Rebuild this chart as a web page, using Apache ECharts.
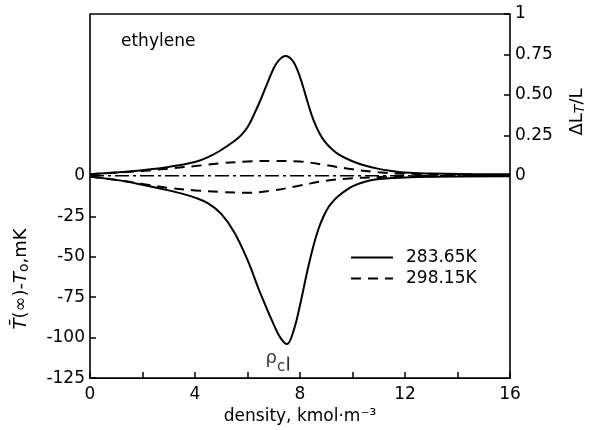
<!DOCTYPE html>
<html>
<head>
<meta charset="utf-8">
<script src="https://cdn.jsdelivr.net/npm/echarts@6/dist/echarts.min.js"></script>
<style>html,body{margin:0;padding:0;background:#fff;}#c{width:591px;height:430px;}</style>
</head>
<body>
<div id="c"></div>
<script>
// ---- data (density in kmol/m^3) ----
const upperSolidX = [0, 1, 2, 3, 4, 4.5, 5, 5.5, 5.75, 6, 6.25, 6.5, 6.75, 7, 7.2, 7.45, 7.7, 7.9, 8.1, 8.3, 8.5, 8.75, 9, 9.25, 9.5, 10, 10.5, 11, 11.5, 12, 13, 14, 16];
const upperSolidY = [0.01, 0.02, 0.035, 0.055, 0.085, 0.115, 0.16, 0.215, 0.25, 0.3, 0.38, 0.47, 0.57, 0.665, 0.715, 0.74, 0.715, 0.655, 0.56, 0.45, 0.35, 0.26, 0.2, 0.16, 0.13, 0.09, 0.062, 0.043, 0.03, 0.02, 0.014, 0.011, 0.01];

const lowerSolidX = [0, 1, 2, 3, 3.5, 4, 4.5, 5, 5.5, 6, 6.5, 7, 7.25, 7.5, 7.75, 8, 8.25, 8.5, 8.7, 8.9, 9.1, 9.3, 9.5, 9.75, 10, 10.5, 11, 12, 13, 16];
const lowerSolidY = [-0.5, -2.5, -5.5, -9, -11, -13.5, -17, -23.5, -35, -52, -73, -92, -100, -104, -96, -80, -61, -44, -33, -25, -19, -15, -12, -9, -6.5, -3.5, -2, -1, -0.6, -0.3];

const upperDashX = [0, 1, 2, 3, 4, 5, 6, 7, 8, 9, 10, 11, 12, 13, 16];
const upperDashY = [0.01, 0.02, 0.03, 0.045, 0.06, 0.078, 0.088, 0.092, 0.088, 0.066, 0.04, 0.022, 0.012, 0.008, 0.005];

const lowerDashX = [0, 1, 2, 3, 4, 5, 6, 7, 8, 9, 10, 11, 12, 13, 16];
const lowerDashY = [-0.5, -2.5, -5, -7.5, -9, -10, -10.5, -9, -6, -3, -1.5, -0.8, -0.3, -0.2, -0.1];

const baseX = [0, 16];
const baseY = [0, 0];

const rhoC = 7.55;
const rhoCMark = -116;

const xTickLabels = [0, 4, 8, 12, 16];
const xTicks = [0, 2, 4, 6, 8, 10, 12, 14, 16];
const leftTicks = [0, -25, -50, -75, -100, -125];
const rightTicks = [0, 0.25, 0.5, 0.75, 1];

const legendNames = ['283.65K', '298.15K'];

const pairs = (xs, ys) => xs.map((x, i) => [x, ys[i]]);

const FONT = 'DejaVu Sans';
const chart = echarts.init(document.getElementById('c'), null, {renderer: 'canvas'});

const curveBase = {type: 'line', smooth: 0.4, symbol: 'none', showSymbol: false, silent: true};

chart.setOption({
  animation: false,
  backgroundColor: '#fff',
  textStyle: {fontFamily: FONT, color: '#000'},
  title: {
    text: 'ethylene', left: 116, top: 28,
    textStyle: {fontFamily: FONT, fontSize: 17, fontWeight: 'normal', color: '#000'}
  },
  grid: {left: 90, right: 81, top: 14, bottom: 51, show: true, borderColor: '#000', borderWidth: 1.6, backgroundColor: 'transparent'},
  legend: {
    data: legendNames, orient: 'vertical', left: 345, top: 244,
    itemWidth: 42, itemHeight: 14, itemGap: 4,
    itemStyle: {opacity: 0},
    textStyle: {fontFamily: FONT, fontSize: 17, color: '#000', padding: [0, 0, 0, 8]}
  },
  xAxis: {
    type: 'value', min: 0, max: 16, interval: 2,
    axisLine: {show: false, onZero: false},
    axisTick: {show: true, inside: true, length: 6, lineStyle: {color: '#000', width: 1.5}, customValues: xTicks},
    axisLabel: {customValues: xTickLabels, fontFamily: FONT, fontSize: 17, color: '#000', margin: 8},
    splitLine: {show: false},
    name: 'density, kmol·m⁻³', nameLocation: 'middle', nameGap: 25,
    nameTextStyle: {fontFamily: FONT, fontSize: 17, color: '#000'}
  },
  yAxis: [
    {
      type: 'value', position: 'left', min: -125, max: 100, interval: 25,
      axisLine: {show: false, onZero: false},
      axisTick: {show: true, inside: true, length: 6, lineStyle: {color: '#000', width: 1.5}, customValues: leftTicks},
      axisLabel: {customValues: leftTicks, fontFamily: FONT, fontSize: 17, color: '#000', margin: 5},
      splitLine: {show: false}
    },
    {
      type: 'value', position: 'right', min: -1.25, max: 1, interval: 0.25,
      axisLine: {show: false, onZero: false},
      axisTick: {show: true, inside: true, length: 6, lineStyle: {color: '#000', width: 1.5}, customValues: rightTicks},
      axisLabel: {
        customValues: rightTicks, fontFamily: FONT, fontSize: 17, color: '#000', margin: 5,
        formatter: v => (v === 0 ? '0' : v === 1 ? '1' : v.toFixed(2))
      },
      splitLine: {show: false}
    }
  ],
  graphic: [
    {
      type: 'text', x: 21, y: 279, rotation: Math.PI / 2,
      style: {
        text: '{i|T̄}(∞)-{i|T}{s|o},mK', textAlign: 'center', textVerticalAlign: 'middle',
        fontFamily: FONT, fontSize: 18, fill: '#000',
        rich: {
          i: {fontFamily: FONT, fontSize: 18, fontStyle: 'italic', fill: '#000'},
          s: {fontFamily: FONT, fontSize: 14, fill: '#000', padding: [6, 0, 0, 0]}
        }
      }
    },
    {
      type: 'text', x: 577, y: 112, rotation: Math.PI / 2,
      style: {
        text: 'ΔL{s|T}/L', textAlign: 'center', textVerticalAlign: 'middle',
        fontFamily: FONT, fontSize: 18, fill: '#000',
        rich: {
          s: {fontFamily: FONT, fontSize: 14, fontStyle: 'italic', fill: '#000', padding: [6, 0, 0, 0]}
        }
      }
    }
  ],
  series: [
    Object.assign({}, curveBase, {name: legendNames[0], yAxisIndex: 1, data: pairs(upperSolidX, upperSolidY),
      lineStyle: {color: '#000', width: 2, type: 'solid'}, itemStyle: {color: '#000'}}),
    Object.assign({}, curveBase, {name: legendNames[0], yAxisIndex: 0, data: pairs(lowerSolidX, lowerSolidY),
      lineStyle: {color: '#000', width: 2, type: 'solid'}, itemStyle: {color: '#000'}}),
    Object.assign({}, curveBase, {name: legendNames[1], yAxisIndex: 1, data: pairs(upperDashX, upperDashY),
      lineStyle: {color: '#000', width: 2, type: [10, 7]}, itemStyle: {color: '#000'}}),
    Object.assign({}, curveBase, {name: legendNames[1], yAxisIndex: 0, data: pairs(lowerDashX, lowerDashY),
      lineStyle: {color: '#000', width: 2, type: [10, 7]}, itemStyle: {color: '#000'}}),
    Object.assign({}, curveBase, {name: 'zero', yAxisIndex: 0, smooth: false, data: pairs(baseX, baseY),
      lineStyle: {color: '#000', width: 1.5, type: [14, 4, 3, 4]}, itemStyle: {color: '#000'}}),
    {
      type: 'scatter', name: 'rhoC', yAxisIndex: 0, silent: true,
      data: [[rhoC, rhoCMark]],
      symbol: 'rect', symbolSize: [1.8, 14], itemStyle: {color: '#000'},
      label: {
        show: true, position: 'left', distance: 2,
        formatter: '{r|ρ}{c|c}',
        rich: {
          r: {fontFamily: FONT, fontSize: 18, color: '#000', padding: [0, 0, 10, 0]},
          c: {fontFamily: FONT, fontSize: 15, color: '#000', padding: [8, 0, 0, 0]}
        }
      }
    }
  ]
});
</script>
</body>
</html>
